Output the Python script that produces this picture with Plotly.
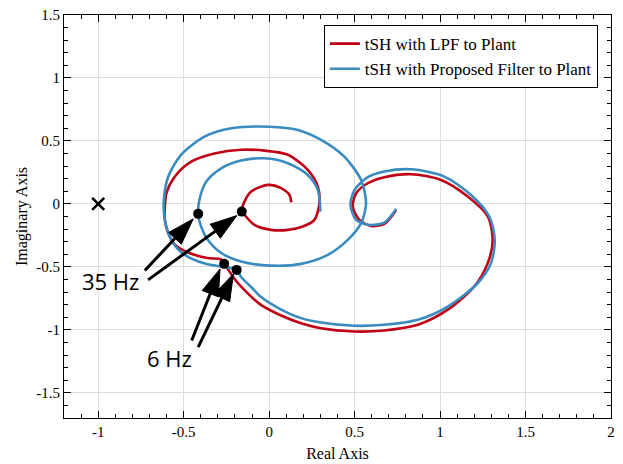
import plotly.graph_objects as go

# ---- data ----
red_x = [0.743, 0.674, 0.596, 0.528, 0.489, 0.509, 0.577, 0.674, 0.83, 1.006, 1.162, 1.279, 1.308, 1.279,
         1.2, 1.045, 0.87, 0.674, 0.5, 0.304, 0.187, 0.06, -0.05, -0.125, -0.2, -0.24, -0.263, -0.28,
         -0.36, -0.466, -0.55, -0.59, -0.61, -0.61, -0.6, -0.55, -0.456, -0.32, -0.164, -0.027, 0.11,
         0.226, 0.285, 0.294, 0.265, 0.197, 0.11, 0.012, -0.086, -0.144, -0.16, -0.144, -0.105, -0.008,
         0.07, 0.119, 0.129]
red_y = [-0.048, -0.159, -0.175, -0.127, -0.021, 0.085, 0.164, 0.212, 0.236, 0.19, 0.058, -0.1, -0.286,
         -0.47, -0.656, -0.84, -0.96, -1.005, -1.013, -0.987, -0.947, -0.88, -0.8, -0.71, -0.6, -0.52,
         -0.476, -0.44, -0.43, -0.39, -0.325, -0.233, -0.127, -0.02, 0.09, 0.22, 0.336, 0.40, 0.43,
         0.423, 0.39, 0.27, 0.137, 0.005, -0.127, -0.18, -0.206, -0.206, -0.167, -0.087, -0.061, 0.018,
         0.098, 0.151, 0.125, 0.071, 0.013]

blue_x = [0.743, 0.674, 0.587, 0.509, 0.476, 0.5, 0.577, 0.674, 0.83, 1.025, 1.181, 1.288, 1.32, 1.298,
          1.22, 1.045, 0.87, 0.674, 0.5, 0.304, 0.187, 0.065, -0.047, -0.105, -0.164, -0.19, -0.26,
          -0.36, -0.46, -0.53, -0.58, -0.61, -0.616, -0.59, -0.515, -0.378, -0.22, 0.002, 0.168, 0.304,
          0.44, 0.538, 0.567, 0.538, 0.46, 0.343, 0.187, 0.012, -0.164, -0.28, -0.358, -0.398, -0.415,
          -0.408, -0.368, -0.28, -0.164, -0.027, 0.11, 0.226, 0.285, 0.3]
blue_y = [-0.04, -0.148, -0.167, -0.127, -0.008, 0.111, 0.212, 0.257, 0.275, 0.217, 0.071, -0.1, -0.286,
          -0.47, -0.63, -0.815, -0.92, -0.96, -0.968, -0.942, -0.907, -0.835, -0.74, -0.66, -0.58,
          -0.524, -0.50, -0.48, -0.43, -0.365, -0.26, -0.127, 0.03, 0.217, 0.39, 0.534, 0.60, 0.613,
          0.587, 0.508, 0.375, 0.19, 0.005, -0.153, -0.286, -0.405, -0.476, -0.49, -0.458, -0.39,
          -0.286, -0.18, -0.079, 0.032, 0.177, 0.283, 0.344, 0.362, 0.323, 0.23, 0.111, -0.061]

dot_x = [-0.263, -0.19, -0.415, -0.16]
dot_y = [-0.476, -0.524, -0.079, -0.061]

arrow_tail_x = [-0.727, -0.708, -0.453, -0.415]
arrow_tail_y = [-0.529, -0.603, -1.085, -1.138]
arrow_tip_x = [-0.444, -0.189, -0.287, -0.209]
arrow_tip_y = [-0.119, -0.093, -0.516, -0.556]

label_text = ["35 Hz", "6 Hz"]
label_x = [-0.93, -0.584]
label_y = [-0.61, -1.22]

crit_x = [-1]
crit_y = [0]

x_ticks = [-1, -0.5, 0, 0.5, 1, 1.5, 2]
x_ticktext = ["-1", "-0.5", "0", "0.5", "1", "1.5", "2"]
y_ticks = [-1.5, -1, -0.5, 0, 0.5, 1, 1.5]
y_ticktext = ["-1.5", "-1", "-0.5", "0", "0.5", "1", "1.5"]

names = ["tSH with LPF to Plant", "tSH with Proposed Filter to Plant"]
RED = "#C00014"
BLUE = "#3A8CC0"

fig = go.Figure()
fig.add_trace(go.Scatter(x=red_x, y=red_y, mode="lines", name=names[0],
                         line=dict(color=RED, width=2.6, shape="spline", smoothing=0.8)))
fig.add_trace(go.Scatter(x=blue_x, y=blue_y, mode="lines", name=names[1],
                         line=dict(color=BLUE, width=2.6, shape="spline", smoothing=0.8)))

# arrows: shaft + narrow head pointing along the segment
ax, ay, sym, sz = [], [], [], []
for tx, ty, hx, hy in zip(arrow_tail_x, arrow_tail_y, arrow_tip_x, arrow_tip_y):
    ax += [tx, hx, None]
    ay += [ty, hy, None]
    sym += ["circle", "arrow", "circle"]
    sz += [0, 28, 0]
fig.add_trace(go.Scatter(x=ax, y=ay, mode="lines+markers", showlegend=False,
                         line=dict(color="black", width=3),
                         marker=dict(symbol=sym, size=sz, color="black", angleref="previous",
                                     opacity=1, line=dict(width=1, color="black"))))

fig.add_trace(go.Scatter(x=dot_x, y=dot_y, mode="markers", showlegend=False,
                         marker=dict(size=10, color="black")))
fig.add_trace(go.Scatter(x=crit_x, y=crit_y, mode="markers", showlegend=False,
                         marker=dict(symbol="x-thin", size=12, color="black",
                                     line=dict(width=2.6, color="black"))))

for t, x, y in zip(label_text, label_x, label_y):
    fig.add_annotation(x=x, y=y, text=t, showarrow=False,
                       font=dict(family="Open Sans", size=22, color="black"))

axis_common = dict(showline=True, linecolor="black", linewidth=1, mirror="ticks",
                   ticks="inside", ticklen=7, tickwidth=1, tickcolor="black",
                   showgrid=True, gridcolor="#DEDEDE", gridwidth=1, zeroline=False,
                   automargin=False, ticklabeloverflow="allow",
                   minor=dict(ticks="inside", dtick=0.1, ticklen=4, tickcolor="black", showgrid=False),
                   tickfont=dict(family="Liberation Serif", size=15, color="black"))

fig.update_xaxes(range=[-1.2, 2], tickvals=x_ticks, ticktext=x_ticktext,
                 title=dict(text="Real Axis", standoff=8,
                            font=dict(family="Liberation Serif", size=16, color="black")),
                 **axis_common)
fig.update_yaxes(range=[-1.7, 1.5], tickvals=y_ticks, ticktext=y_ticktext,
                 title=dict(text="Imaginary Axis", standoff=4,
                            font=dict(family="Liberation Serif", size=16, color="black")),
                 **axis_common)

# page body adds an 8px offset, so the figure is drawn 8px smaller
fig.update_layout(
    width=615, height=456,
    margin=dict(l=56, r=12, t=7, b=46, autoexpand=False),
    paper_bgcolor="white", plot_bgcolor="white",
    font=dict(family="Liberation Serif", size=15, color="black"),
    legend=dict(x=0.976, y=0.975, xanchor="right", yanchor="top",
                bgcolor="white", bordercolor="black", borderwidth=1,
                font=dict(family="Liberation Serif", size=17, color="black"),
                tracegroupgap=0, itemwidth=30),
    showlegend=True,
)

fig.write_html("out.html")
